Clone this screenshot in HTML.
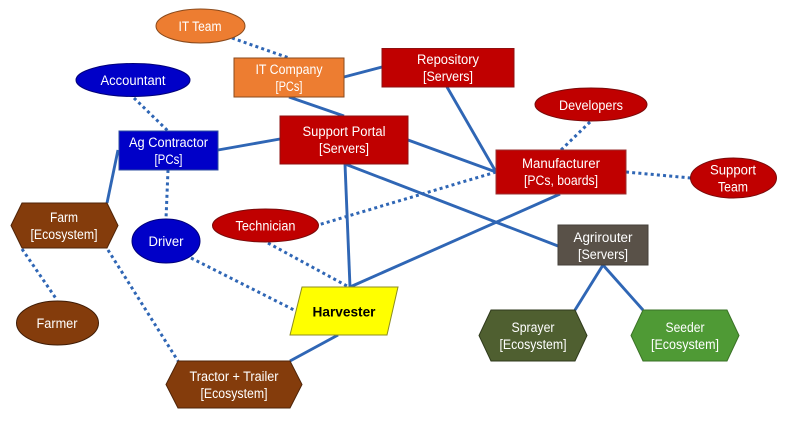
<!DOCTYPE html>
<html><head><meta charset="utf-8"><style>
html,body{margin:0;padding:0;background:#fff;width:800px;height:438px;overflow:hidden}
svg{display:block}
text{font-family:"Liberation Sans",sans-serif;font-size:13.5px;fill:#fff;text-anchor:middle}
.s{stroke:#2f66b5;stroke-width:2.9;fill:none}
.d{stroke:#2f66b5;stroke-width:3;fill:none;stroke-dasharray:3 3.2}
</style></head><body>
<svg width="800" height="438" viewBox="0 0 800 438" xmlns="http://www.w3.org/2000/svg">
<g class="s">
<line x1="344" y1="77" x2="382" y2="67"/>
<line x1="289" y1="97" x2="344" y2="116"/>
<line x1="218" y1="150" x2="280" y2="139"/>
<line x1="118" y1="150" x2="107" y2="203"/>
<line x1="408" y1="140" x2="496" y2="172"/>
<line x1="447" y1="87" x2="496" y2="172"/>
<line x1="345" y1="164" x2="350" y2="287"/>
<line x1="345" y1="164" x2="558" y2="246"/>
<line x1="560" y1="194" x2="350" y2="287"/>
<line x1="338" y1="335" x2="290" y2="361"/>
<line x1="603" y1="265" x2="575" y2="310"/>
<line x1="603" y1="265" x2="643" y2="310"/>
</g>
<g class="d">
<line x1="232" y1="38" x2="289" y2="58"/>
<line x1="134" y1="98" x2="168" y2="131"/>
<line x1="168" y1="170" x2="166" y2="219"/>
<line x1="496" y1="172" x2="318" y2="225"/>
<line x1="590" y1="122" x2="561" y2="150"/>
<line x1="626" y1="172" x2="691" y2="178"/>
<line x1="268" y1="243" x2="347" y2="286"/>
<line x1="191" y1="258" x2="296" y2="311"/>
<line x1="22" y1="249" x2="57" y2="300"/>
<line x1="108" y1="250" x2="178" y2="361"/>
</g>
<ellipse cx="200.500" cy="26" rx="44.500" ry="17" fill="#ed7d31" stroke="#8a4a1c"/>
<rect x="234" y="58" width="110" height="39" fill="#ed7d31" stroke="#8a4a1c"/>
<ellipse cx="133" cy="80" rx="57" ry="16.500" fill="#0000c8" stroke="#00007a"/>
<rect x="119" y="131" width="99" height="39" fill="#0000c8" stroke="#2f4f9f"/>
<rect x="280" y="116" width="128" height="48" fill="#c00000" stroke="#8f1010"/>
<rect x="382" y="48.500" width="132" height="38.500" fill="#c00000" stroke="#8f1010"/>
<ellipse cx="591" cy="104.500" rx="56" ry="16.500" fill="#c00000" stroke="#7a0a0a"/>
<rect x="496" y="150" width="130" height="44" fill="#c00000" stroke="#9a3030"/>
<ellipse cx="733.500" cy="178" rx="43" ry="20" fill="#c00000" stroke="#7a0a0a"/>
<rect x="558" y="225" width="90" height="40" fill="#595148" stroke="#45403a"/>
<polygon points="491,310 575,310 587,335.500 575,361 491,361 479,335.500" fill="#4f5f30" stroke="#2f3a1c"/>
<polygon points="643,310 727,310 739,335.500 727,361 643,361 631,335.500" fill="#4f9a35" stroke="#3a7226"/>
<polygon points="22,203 107,203 118,225.500 107,248 22,248 11,225.500" fill="#843c0c" stroke="#4f2408"/>
<ellipse cx="166" cy="241" rx="34" ry="22" fill="#0000c8" stroke="#00007a"/>
<ellipse cx="265.500" cy="225.500" rx="53" ry="16.500" fill="#c00000" stroke="#7a0a0a"/>
<ellipse cx="57.500" cy="323" rx="41" ry="22" fill="#843c0c" stroke="#3f1c06"/>
<polygon points="302,287 398,287 387,335 290,335" fill="#ffff00" stroke="#8c8c20"/>
<polygon points="178,361 290,361 302,384.500 290,408 178,408 166,384.500" fill="#843c0c" stroke="#4f2408"/>
<text x="200" y="31" textLength="43" lengthAdjust="spacingAndGlyphs">IT Team</text>
<text x="289" y="74" textLength="67" lengthAdjust="spacingAndGlyphs">IT Company</text>
<text x="289" y="91" textLength="27" lengthAdjust="spacingAndGlyphs">[PCs]</text>
<text x="133" y="85" textLength="65" lengthAdjust="spacingAndGlyphs">Accountant</text>
<text x="168.500" y="147" textLength="79" lengthAdjust="spacingAndGlyphs">Ag Contractor</text>
<text x="168.500" y="164" textLength="28" lengthAdjust="spacingAndGlyphs">[PCs]</text>
<text x="344" y="136" textLength="83" lengthAdjust="spacingAndGlyphs">Support Portal</text>
<text x="344" y="153" textLength="50" lengthAdjust="spacingAndGlyphs">[Servers]</text>
<text x="448" y="64" textLength="62" lengthAdjust="spacingAndGlyphs">Repository</text>
<text x="448" y="81" textLength="50" lengthAdjust="spacingAndGlyphs">[Servers]</text>
<text x="591" y="110" textLength="64" lengthAdjust="spacingAndGlyphs">Developers</text>
<text x="561" y="168" textLength="78" lengthAdjust="spacingAndGlyphs">Manufacturer</text>
<text x="561" y="185" textLength="74" lengthAdjust="spacingAndGlyphs">[PCs, boards]</text>
<text x="733" y="174.500" textLength="46" lengthAdjust="spacingAndGlyphs">Support</text>
<text x="733" y="191.500" textLength="30" lengthAdjust="spacingAndGlyphs">Team</text>
<text x="603" y="242" textLength="59" lengthAdjust="spacingAndGlyphs">Agrirouter</text>
<text x="603" y="259" textLength="50" lengthAdjust="spacingAndGlyphs">[Servers]</text>
<text x="533" y="332" textLength="43" lengthAdjust="spacingAndGlyphs">Sprayer</text>
<text x="533" y="349" textLength="67" lengthAdjust="spacingAndGlyphs">[Ecosystem]</text>
<text x="685" y="332" textLength="39" lengthAdjust="spacingAndGlyphs">Seeder</text>
<text x="685" y="349" textLength="68" lengthAdjust="spacingAndGlyphs">[Ecosystem]</text>
<text x="64" y="222" textLength="28" lengthAdjust="spacingAndGlyphs">Farm</text>
<text x="64" y="239" textLength="67" lengthAdjust="spacingAndGlyphs">[Ecosystem]</text>
<text x="166" y="246" textLength="35" lengthAdjust="spacingAndGlyphs">Driver</text>
<text x="265.500" y="230.500" textLength="60" lengthAdjust="spacingAndGlyphs">Technician</text>
<text x="57" y="328" textLength="41" lengthAdjust="spacingAndGlyphs">Farmer</text>
<text x="344" y="316.500" textLength="63" lengthAdjust="spacingAndGlyphs" style="fill:#000;font-weight:bold">Harvester</text>
<text x="234" y="381" textLength="89" lengthAdjust="spacingAndGlyphs">Tractor + Trailer</text>
<text x="234" y="398" textLength="67" lengthAdjust="spacingAndGlyphs">[Ecosystem]</text>
</svg>
</body></html>
